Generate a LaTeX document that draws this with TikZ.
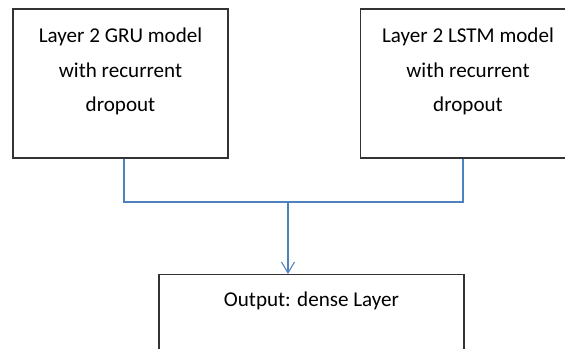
\documentclass[tikz,border=0pt]{standalone}
\usepackage{fontspec}
\setmainfont{Carlito}
\usetikzlibrary{arrows.meta}

\definecolor{linkblue}{RGB}{79,129,189}

\tikzset{
	layerbox/.style={draw=black!80, line width=0.8pt, minimum height=2.98cm},
	boxtext/.style={align=center, font=\fontsize{12}{19.6}\selectfont},
	link/.style={draw=linkblue, line width=0.6pt},
}

\begin{document}
\begin{tikzpicture}[>={Straight Barb[length=2.2mm,width=2.6mm]}]
	\useasboundingbox (0,0) rectangle (11.3,-6.96);
	\clip (0,0) rectangle (11.3,-6.96);
	\node [layerbox, minimum width=4.3cm, label={[boxtext, below=2.7mm]north:Layer 2 GRU model\\with recurrent\\dropout}] (gru) at (2.41,-1.67) {};
	\node [layerbox, minimum width=4.3cm, label={[boxtext, below=2.7mm]north:Layer 2 LSTM model\\with recurrent\\dropout}] (lstm) at (9.36,-1.67) {};
	\node [layerbox, minimum width=6.1cm, minimum height=2.5cm, anchor=north, label={[boxtext, below=2.4mm]north:{Output: dense Layer}}] (dense) at (6.23,-5.48) {};
	\coordinate (join) at (5.76,-4.04);
	\draw [link] ([xshift=0.7mm]gru.south) |- (join) -| ([xshift=-1mm]lstm.south);
	\draw [link, ->] (join) -- (join |- dense.north);
\end{tikzpicture}
\end{document}
